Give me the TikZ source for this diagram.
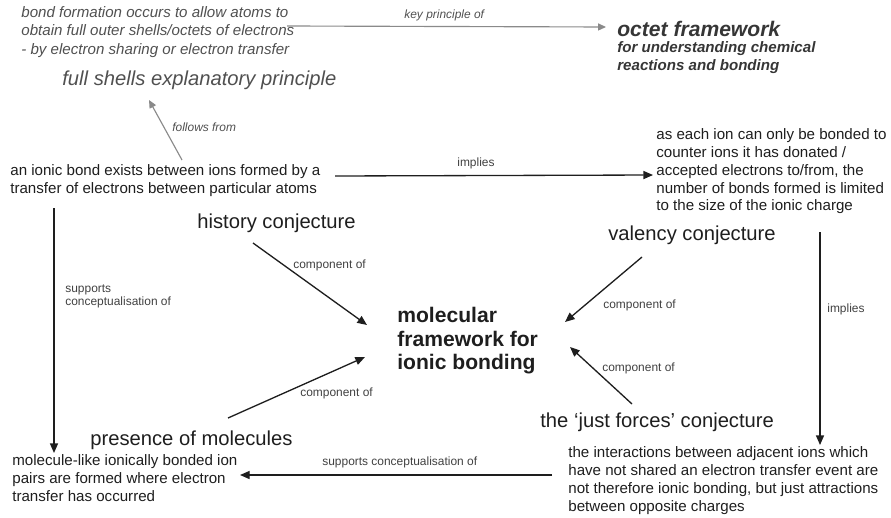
\documentclass[tikz,border=0pt]{standalone}
\usepackage{fontspec}
\setmainfont{Liberation Sans}
\usetikzlibrary{arrows.meta}

\definecolor{inkgrey}{HTML}{1E1E1E}
\definecolor{topgrey}{HTML}{505050}
\definecolor{octetgrey}{HTML}{363636}
\definecolor{linkgrey}{HTML}{8A8A8A}

\tikzset{
  claim/.style={align=left, inner sep=0pt, text=inkgrey, font=\fontsize{8.6}{10.2}\selectfont},
  conj/.style={inner sep=0pt, text=inkgrey, font=\fontsize{11.5}{13}\selectfont},
  rel/.style={align=left, inner sep=0pt, text=inkgrey!85, font=\fontsize{6.8}{7.9}\selectfont},
  toptext/.style={align=left, inner sep=0pt, text=topgrey, font=\fontsize{8.6}{10.5}\selectfont\itshape},
  link/.style={draw=inkgrey, line width=0.75pt, -{Triangle[length=5.5pt,width=4.6pt]}},
  toplink/.style={draw=linkgrey, line width=0.65pt, -{Triangle[length=4.5pt,width=4pt]}},
}

\begin{document}
\begin{tikzpicture}[x=0.02cm, y=-0.02cm]
  \useasboundingbox (0,0) rectangle (891,517);

  % octet level
  \node[toptext, anchor=north west] (bondform) at (21,6)
    {bond formation occurs to allow atoms to\\obtain full outer shells/octets of electrons\\- by electron sharing or electron transfer};
  \node[inner sep=0pt, text=topgrey, font=\fontsize{11.5}{13}\selectfont\itshape, anchor=west] (fullshells) at (62,80)
    {full shells explanatory principle};
  \node[inner sep=0pt, text=octetgrey, font=\fontsize{12}{13}\selectfont\bfseries\itshape, anchor=west] (octet) at (617,29)
    {octet framework};
  \node[inner sep=0pt, align=left, text=octetgrey, font=\fontsize{8.6}{10.2}\selectfont\bfseries\itshape, anchor=north west] (octetsub) at (617,41)
    {for understanding chemical\\reactions and bonding};
  \node[rel, text=topgrey, font=\fontsize{6.8}{7.9}\selectfont\itshape, anchor=west] (keylbl) at (404,15) {key principle of};
  \node[rel, text=topgrey, font=\fontsize{6.8}{7.9}\selectfont\itshape, anchor=west] (followlbl) at (172,127) {follows from};

  % claims
  \node[claim, anchor=north west] (ionic) at (10,164)
    {an ionic bond exists between ions formed by a\\transfer of electrons between particular atoms};
  \node[claim, anchor=north west] (valtext) at (656,128)
    {as each ion can only be bonded to\\counter ions it has donated /\\accepted electrons to/from, the\\number of bonds formed is limited\\to the size of the ionic charge};
  \node[claim, anchor=north west, font=\fontsize{8.6}{10.4}\selectfont] (moltext) at (12,454)
    {molecule-like ionically bonded ion\\pairs are formed where electron\\transfer has occurred};
  \node[claim, anchor=north west] (intertext) at (568,446)
    {the interactions between adjacent ions which\\have not shared an electron transfer event are\\not therefore ionic bonding, but just attractions\\between opposite charges};

  % conjectures
  \node[conj, anchor=west] (history) at (197,223) {history conjecture};
  \node[conj, anchor=west] (valency) at (608,235) {valency conjecture};
  \node[conj, anchor=west] (presence) at (90,440) {presence of molecules};
  \node[conj, anchor=west] (justforces) at (540,422) {the ‘just forces’ conjecture};
  \node[inner sep=0pt, align=left, text=inkgrey, font=\fontsize{12}{13.3}\selectfont\bfseries, anchor=north west] (molecular) at (397,307)
    {molecular\\framework for\\ionic bonding};

  % relation labels
  \node[rel, anchor=west] (implieslbl) at (457,163) {implies};
  \node[rel, anchor=west] (rimplieslbl) at (827,309) {implies};
  \node[rel, anchor=north west] (supportlbl) at (65,284) {supports\\conceptualisation of};
  \node[rel, anchor=west] (bottomlbl) at (322,462) {supports conceptualisation of};
  \node[rel, anchor=west] (histlbl) at (293,265) {component of};
  \node[rel, anchor=west] (presencelbl) at (300,393) {component of};
  \node[rel, anchor=west] (valencylbl) at (603,305) {component of};
  \node[rel, anchor=west] (jflbl) at (602,368) {component of};

  % arrow ends
  \coordinate (key-a) at (287,26);
  \coordinate (key-b) at (606,27);
  \coordinate (fol-a) at (182,160);
  \coordinate (fol-b) at (149,100);
  \coordinate (imp-a) at (335,176);
  \coordinate (imp-b) at (653,175);
  \coordinate (left-a) at (54,208);
  \coordinate (left-b) at (54,453);
  \coordinate (right-a) at (820,232);
  \coordinate (right-b) at (820,445);
  \coordinate (bot-a) at (552,475);
  \coordinate (bot-b) at (240,475);
  \coordinate (hist-a) at (253,243);
  \coordinate (pres-a) at (228,418);
  \coordinate (val-a) at (642,257);
  \coordinate (jf-a) at (632,404);
  \coordinate (mol-nw) at (367,325);
  \coordinate (mol-sw) at (365,357);
  \coordinate (mol-ne) at (565,322);
  \coordinate (mol-se) at (570,347);

  \draw[toplink] (key-a) -- (key-b);
  \draw[toplink] (fol-a) -- (fol-b);
  \draw[link] (imp-a) -- (imp-b);
  \draw[link] (left-a) -- (left-b);
  \draw[link] (right-a) -- (right-b);
  \draw[link] (bot-a) -- (bot-b);
  \draw[link] (hist-a) -- (mol-nw);
  \draw[link] (pres-a) -- (mol-sw);
  \draw[link] (val-a) -- (mol-ne);
  \draw[link] (jf-a) -- (mol-se);
\end{tikzpicture}
\end{document}
